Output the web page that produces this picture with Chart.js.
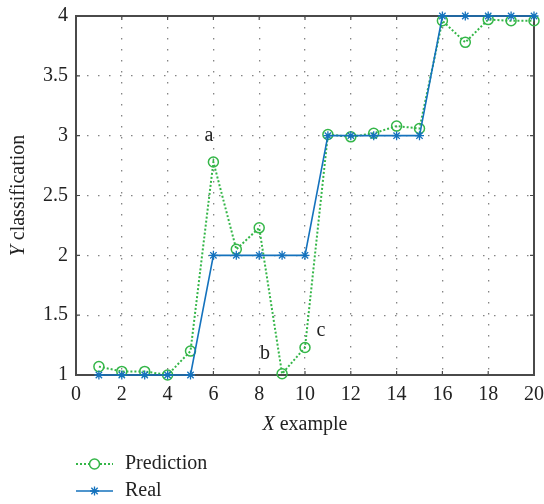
<!DOCTYPE html>
<html>
<head>
<meta charset="utf-8">
<script src="https://cdn.jsdelivr.net/npm/chart.js@4/dist/chart.umd.min.js"></script>
<style>
  html, body { margin: 0; padding: 0; background: #fff; }
  #wrap { width: 544px; height: 504px; }
</style>
</head>
<body>
<div id="wrap"><canvas id="classChart" width="544" height="504"></canvas></div>
<script>
// values
const xValues = [1, 2, 3, 4, 5, 6, 7, 8, 9, 10, 11, 12, 13, 14, 15, 16, 17, 18, 19, 20];
const predictionValues = [1.07, 1.03, 1.03, 1.0, 1.2, 2.78, 2.05, 2.23, 1.01, 1.23, 3.01, 2.99, 3.02, 3.08, 3.06, 3.96, 3.78, 3.97, 3.96, 3.96];
const realValues = [1, 1, 1, 1, 1, 2, 2, 2, 2, 2, 3, 3, 3, 3, 3, 4, 4, 4, 4, 4];
const seriesNames = ['Prediction', 'Real'];
const noteLabels = ['a', 'b', 'c'];
const noteX = [5.8, 8.25, 10.7];
const noteY = [3.0, 1.18, 1.37];

const FONT = '"Liberation Serif", "Times New Roman", serif';
const GREEN = 'rgb(52, 182, 72)';
const BLUE = 'rgb(20, 114, 189)';
const FRAME = '#4a4a4a';

const toPoints = vals => xValues.map((x, i) => ({ x: x, y: vals[i] }));

// frame, inward ticks, axis titles, notes and legend
const decorPlugin = {
    id: 'decor',
    beforeDatasetsDraw(chart) {
        const ctx = chart.ctx;
        const a = chart.chartArea;
        const xs = chart.scales.x, ys = chart.scales.y;
        ctx.save();
        ctx.strokeStyle = FRAME;
        ctx.lineWidth = 2;
        ctx.strokeRect(a.left, a.top, a.right - a.left, a.bottom - a.top);
        ctx.lineWidth = 1.2;
        ctx.beginPath();
        xs.ticks.forEach(t => {
            const px = xs.getPixelForValue(t.value);
            ctx.moveTo(px, a.bottom); ctx.lineTo(px, a.bottom - 4);
            ctx.moveTo(px, a.top); ctx.lineTo(px, a.top + 4);
        });
        ys.ticks.forEach(t => {
            const py = ys.getPixelForValue(t.value);
            ctx.moveTo(a.left, py); ctx.lineTo(a.left + 4, py);
            ctx.moveTo(a.right, py); ctx.lineTo(a.right - 4, py);
        });
        ctx.stroke();
        ctx.restore();
    },
    afterDraw(chart) {
        const ctx = chart.ctx;
        const a = chart.chartArea;
        const xs = chart.scales.x, ys = chart.scales.y;
        ctx.save();
        ctx.fillStyle = '#222';
        ctx.textBaseline = 'middle';

        const drawMixed = (italicPart, rest, cx, cy) => {
            ctx.font = 'italic 20px ' + FONT;
            const w1 = ctx.measureText(italicPart).width;
            ctx.font = '20px ' + FONT;
            const w2 = ctx.measureText(rest).width;
            const x0 = cx - (w1 + w2) / 2;
            ctx.textAlign = 'left';
            ctx.font = 'italic 20px ' + FONT;
            ctx.fillText(italicPart, x0, cy);
            ctx.font = '20px ' + FONT;
            ctx.fillText(rest, x0 + w1, cy);
        };
        drawMixed('X', ' example', (a.left + a.right) / 2, 425);

        ctx.save();
        ctx.translate(19, (a.top + a.bottom) / 2);
        ctx.rotate(-Math.PI / 2);
        drawMixed('Y', ' classification', 0, 0);
        ctx.restore();

        // notes
        ctx.font = '20px ' + FONT;
        ctx.textAlign = 'center';
        noteLabels.forEach((s, i) => {
            ctx.fillText(s, xs.getPixelForValue(noteX[i]), ys.getPixelForValue(noteY[i]));
        });

        // legend
        const rows = [464, 491];
        chart.data.datasets.slice().sort((p, q) => p.legendRow - q.legendRow).forEach((ds, i) => {
            const y = rows[i];
            ctx.strokeStyle = ds.borderColor;
            ctx.lineWidth = ds.borderWidth;
            ctx.setLineDash(ds.borderDash || []);
            ctx.beginPath();
            ctx.moveTo(76, y); ctx.lineTo(113, y);
            ctx.stroke();
            ctx.setLineDash([]);
            ctx.fillStyle = '#fff';
            ctx.strokeStyle = ds.pointBorderColor;
            ctx.lineWidth = ds.pointBorderWidth;
            Chart.helpers.drawPoint(ctx, {
                pointStyle: ds.pointStyle, radius: ds.pointRadius, rotation: 0,
                borderWidth: ds.pointBorderWidth
            }, 94.5, y);
            ctx.fillStyle = '#222';
            ctx.font = '20px ' + FONT;
            ctx.textAlign = 'left';
            ctx.fillText(ds.label, 125, y);
        });

        ctx.restore();
    }
};

const grid = {
    color: 'rgba(110,110,110,0.85)',
    lineWidth: 1.3,
    drawTicks: false,
    tickLength: 0
};
const tickFont = { family: FONT, size: 20 };
const plainNumber = v => String(Math.round(v * 10) / 10);

const ctx = document.getElementById('classChart').getContext('2d');
const classChart = new Chart(ctx, {
    type: 'line',
    data: {
        datasets: [{
            label: seriesNames[1],
            legendRow: 1,
            data: toPoints(realValues),
            borderColor: BLUE,
            backgroundColor: BLUE,
            borderWidth: 1.6,
            pointStyle: 'star',
            pointRadius: 4.5,
            pointBorderWidth: 1.3,
            pointBorderColor: BLUE,
            tension: 0,
            clip: false,
            order: 0
        }, {
            label: seriesNames[0],
            legendRow: 0,
            data: toPoints(predictionValues),
            borderColor: GREEN,
            backgroundColor: 'rgba(0,0,0,0)',
            borderWidth: 2,
            borderDash: [2, 2],
            pointStyle: 'circle',
            pointRadius: 5,
            pointBorderWidth: 1.5,
            pointBorderColor: GREEN,
            pointBackgroundColor: 'rgba(0,0,0,0)',
            tension: 0,
            clip: false,
            order: 1
        }]
    },
    options: {
        responsive: false,
        animation: false,
        layout: { padding: { top: 16, right: 10, left: 0, bottom: 0 } },
        plugins: { legend: { display: false }, tooltip: { enabled: false } },
        scales: {
            x: {
                type: 'linear',
                min: 0,
                max: 20,
                ticks: { stepSize: 2, padding: 8, color: '#222', font: tickFont, callback: plainNumber },
                grid: grid,
                border: { display: false, dash: [1.5, 9.5] },
                afterFit(scale) {
                    scale.height = 129;
                    scale.paddingLeft = 0;
                    scale.paddingRight = 0;
                }
            },
            y: {
                min: 1,
                max: 4,
                ticks: { stepSize: 0.5, padding: 8, color: '#222', font: tickFont, callback: plainNumber },
                grid: grid,
                border: { display: false, dash: [1.5, 9.5] },
                afterFit(scale) {
                    scale.width = 76;
                    scale.paddingTop = 0;
                    scale.paddingBottom = 0;
                }
            }
        }
    },
    plugins: [decorPlugin]
});
</script>
</body>
</html>
